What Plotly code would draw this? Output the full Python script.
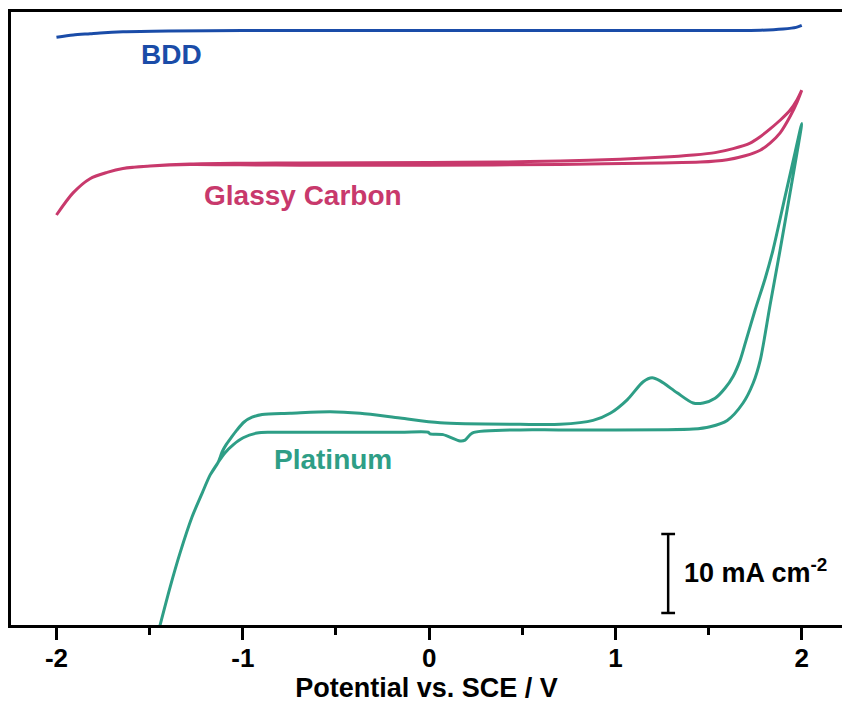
import plotly.graph_objects as go

# ---- data (Potential / V, current density / mA cm^-2, curves offset) ----
bdd_v = [-2.0, -1.91, -1.82, -1.766, -1.643, -1.4, -1.0, -0.5, 0.0, 0.5, 1.0, 1.5, 1.78, 1.9, 1.97, 2.0]
bdd_j = [74.4, 74.7, 74.85, 74.95, 75.1, 75.2, 75.25, 75.25, 75.25, 75.25, 75.25, 75.25, 75.3, 75.45, 75.65, 75.9]

gc_up_v = [-2.0, -1.911, -1.820, -1.728, -1.643, -1.498, -1.283, -1.014, -0.692, 0.005, 0.381, 0.703,
           1.025, 1.240, 1.417, 1.535, 1.632, 1.723, 1.777, 1.830, 1.884, 1.938, 1.975, 2.0]
gc_up_j = [51.9, 54.7, 56.5, 57.3, 57.8, 58.1, 58.35, 58.45, 58.5, 58.55, 58.6, 58.75,
           58.95, 59.2, 59.5, 59.8, 60.3, 61.0, 61.8, 62.8, 63.9, 65.2, 66.5, 67.7]
gc_dn_v = [2.0, 1.975, 1.938, 1.884, 1.830, 1.777, 1.696, 1.600, 1.455, 1.240, 0.703, 0.005,
           -0.692, -1.014, -1.283, -1.498, -1.643, -1.728, -1.820, -1.911, -2.0]
gc_dn_j = [67.7, 66.2, 64.4, 62.3, 61.0, 60.1, 59.4, 58.9, 58.6, 58.5, 58.3, 58.2,
           58.2, 58.25, 58.3, 58.1, 57.8, 57.3, 56.5, 54.7, 51.9]

pt_up_v = [2.0, 1.965, 1.911, 1.846, 1.804, 1.750, 1.702, 1.669, 1.632, 1.589, 1.535, 1.471, 1.417,
           1.331, 1.240, 1.197, 1.149, 1.063, 0.972, 0.880, 0.703, 0.488, 0.059, -0.156, -0.370,
           -0.531, -0.746, -0.896, -0.950, -0.993, -1.031, -1.063, -1.090, -1.111, -1.132, -1.175,
           -1.218, -1.272, -1.337, -1.390, -1.458]
pt_up_j = [63.5, 59.9, 54.3, 47.5, 43.9, 39.9, 36.1, 33.5, 31.5, 30.0, 28.7, 28.1, 28.1,
           29.4, 30.9, 31.3, 30.8, 28.5, 26.8, 25.9, 25.4, 25.4, 25.6, 26.2, 26.8,
           27.0, 26.8, 26.65, 26.3, 25.7, 24.7, 23.7, 22.8, 21.9, 20.6, 19.0,
           16.7, 13.7, 9.1, 4.8, -1.3]
pt_dn_v = [-1.390, -1.337, -1.272, -1.218, -1.175, -1.132, -1.095, -1.052, -0.998, -0.923, -0.853,
           -0.746, -0.156, -0.005, 0.005, 0.075, 0.166, 0.193, 0.231, 0.488, 0.703, 1.417, 1.508,
           1.600, 1.685, 1.739, 1.777, 1.830, 1.884, 1.938, 2.0]
pt_dn_j = [4.8, 9.1, 13.7, 16.7, 19.0, 20.6, 21.8, 22.8, 23.7, 24.3, 24.4,
           24.4, 24.4, 24.4, 24.2, 24.1, 23.3, 23.4, 24.3, 24.7, 24.7, 24.8, 25.1,
           25.9, 28.1, 30.6, 33.5, 40.5, 47.5, 54.8, 63.5]

x_ticks = [-2, -1, 0, 1, 2]
scalebar_x = 1.283
scalebar_j = [1.52, 11.52]   # 10 mA cm^-2

C_BDD = "#1A4CA8"
C_GC = "#C8396C"
C_PT = "#2E9E86"
FONT = "Arial, Liberation Sans, sans-serif"

fig = go.Figure()
fig.add_trace(go.Scatter(x=bdd_v, y=bdd_j, mode="lines",
                         line=dict(color=C_BDD, width=3, shape="spline", smoothing=0.8)))
fig.add_trace(go.Scatter(x=gc_up_v + gc_dn_v, y=gc_up_j + gc_dn_j, mode="lines",
                         line=dict(color=C_GC, width=3, shape="spline", smoothing=0.8)))
fig.add_trace(go.Scatter(x=pt_up_v + pt_dn_v, y=pt_up_j + pt_dn_j, mode="lines",
                         line=dict(color=C_PT, width=3, shape="spline", smoothing=0.8)))

# scale bar
fig.add_trace(go.Scatter(x=[scalebar_x, scalebar_x], y=scalebar_j, mode="lines",
                         line=dict(color="black", width=2.5)))
for yj in scalebar_j:
    fig.add_shape(type="line", x0=scalebar_x - 0.037, x1=scalebar_x + 0.037, y0=yj, y1=yj,
                  line=dict(color="black", width=2.5))

fig.add_annotation(x=scalebar_x + 0.075, y=sum(scalebar_j) / 2 + 0.3, xanchor="left", yanchor="middle",
                   text="<b>10 mA cm<sup>-2</sup></b>", showarrow=False,
                   font=dict(family=FONT, size=27, color="black"))
fig.add_annotation(x=-1.38, y=72.2, text="<b>BDD</b>", showarrow=False,
                   font=dict(family=FONT, size=28, color=C_BDD))
fig.add_annotation(x=-0.676, y=54.4, text="<b>Glassy Carbon</b>", showarrow=False,
                   font=dict(family=FONT, size=28, color=C_GC))
fig.add_annotation(x=-0.515, y=20.9, text="<b>Platinum</b>", showarrow=False,
                   font=dict(family=FONT, size=28, color=C_PT))

fig.update_layout(
    width=842, height=704,
    margin=dict(l=11, r=0, t=12, b=79),
    paper_bgcolor="white", plot_bgcolor="white",
    showlegend=False,
    xaxis=dict(range=[-2.244, 2.216], tickvals=x_ticks, ticktext=[str(t) for t in x_ticks],
               showline=True, linecolor="black", linewidth=3, mirror=True,
               ticks="outside", ticklen=12, tickwidth=3, tickcolor="black",
               ticklabelstandoff=-4,
               minor=dict(dtick=0.5, ticks="outside", ticklen=7, tickwidth=3, tickcolor="black"),
               showgrid=False, zeroline=False,
               tickfont=dict(family=FONT, size=26, color="black", weight="bold"),
               title=dict(text="Potential vs. SCE / V", standoff=4,
                          font=dict(family=FONT, size=27, color="black", weight="bold"))),
    yaxis=dict(range=[0, 77.6], showline=True, linecolor="black", linewidth=3,
               showticklabels=False, ticks="", showgrid=False, zeroline=False),
)

fig.write_html("out.html")
